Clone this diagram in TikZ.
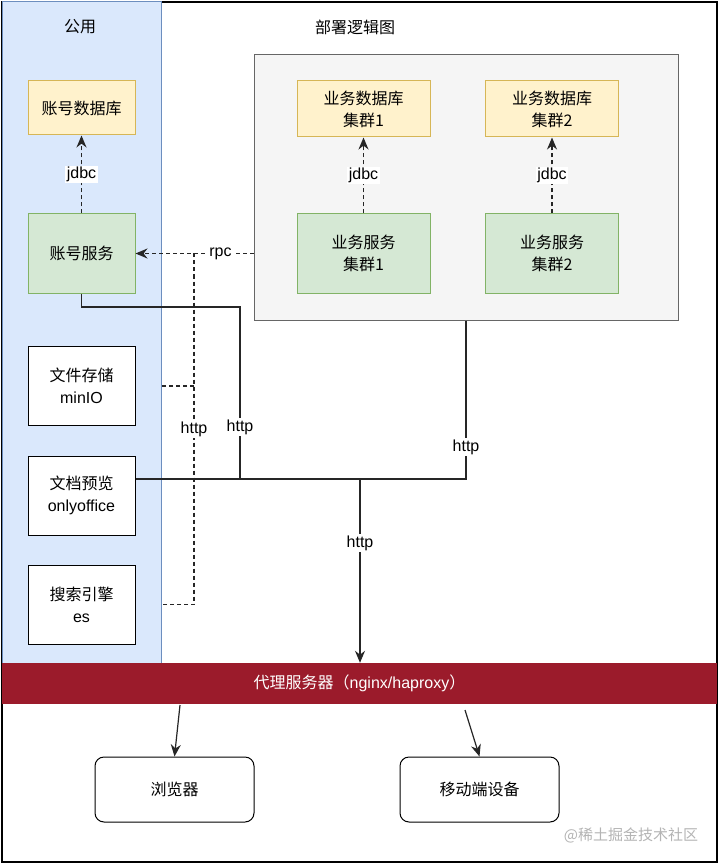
\documentclass[tikz,border=0pt]{standalone}
\usepackage{fontspec}
\setmainfont{Liberation Sans}
\newfontfamily\cjk{Noto Sans CJK SC}
\newcommand{\zh}[1]{{\cjk #1}}
\usetikzlibrary{arrows.meta,positioning}
\definecolor{panelfill}{HTML}{DAE8FC}
\definecolor{panelline}{HTML}{6C8EBF}
\definecolor{dbfill}{HTML}{FFF2CC}
\definecolor{dbline}{HTML}{D6B656}
\definecolor{svcfill}{HTML}{D5E8D4}
\definecolor{svcline}{HTML}{82B366}
\definecolor{grpfill}{HTML}{F5F5F5}
\definecolor{grpline}{HTML}{666666}
\definecolor{proxyred}{HTML}{9B1B2B}
\definecolor{wmgray}{HTML}{B4B4B4}

\begin{document}
\begin{tikzpicture}[x=1pt,y=-1pt,
        box/.style={
            draw,
            line width=1pt,
            minimum width=107pt,
            minimum height=79pt,
            inner sep=2pt,
            align=center,
            font=\fontsize{16}{22}\selectfont
        },
        dbbox/.style={box, fill=dbfill, draw=dbline, minimum height=54pt},
        svcbox/.style={box, fill=svcfill, draw=svcline},
        plainbox/.style={box, fill=white, draw=black},
        clientbox/.style={box, fill=white, draw=black, rounded corners=9pt,
            minimum width=159pt, minimum height=65pt},
        title/.style={font=\fontsize{16}{20}\selectfont},
        lbl/.style={fill=white, inner sep=1.5pt, font=\fontsize{16}{18}\selectfont},
        wire/.style={line width=1.2pt, draw=black!85},
        wirearrow/.style={wire, -{Stealth[length=12pt,width=10pt]}},
        dashline/.style={wire, dash pattern=on 4pt off 3pt},
        dasharrow/.style={dashline, -{Stealth[length=12pt,width=10pt]}}
    ]
    \useasboundingbox (0,0) rectangle (720,866);

    % frame and panels
    \draw[line width=1.5pt, fill=white] (2,2) rectangle (717,862);
    \node[draw=panelline, fill=panelfill, line width=1pt,
          minimum width=159pt, minimum height=661pt] (panel) at (81.5,332.5) {};
    \node[draw=grpline, fill=grpfill, line width=1pt,
          minimum width=424pt, minimum height=265pt] (grp) at (466,187.5) {};
    \node[title] (pubtitle) at (80,27) {\zh{公用}};
    \node[title] (deptitle) at (355,27) {\zh{部署逻辑图}};

    % public services
    \node[dbbox] (acctdb) at (81.5,108) {\zh{账号数据库}};
    \node[svcbox] (acctsvc) at (81.5,253.5) {\zh{账号服务}};
    \node[plainbox] (file) at (81.5,386) {\zh{文件存储}\\minIO};
    \node[plainbox] (doc) at (81.5,495.5) {\zh{文档预览}\\onlyoffice};
    \node[plainbox] (search) at (81.5,604.5) {\zh{搜索引擎}\\es};

    % business clusters
    \node[dbbox, minimum width=133pt, minimum height=56pt] (bizdb1) at (363.5,109) {\zh{业务数据库}\\\zh{集群1}};
    \node[dbbox, minimum width=133pt, minimum height=56pt] (bizdb2) at (552,109) {\zh{业务数据库}\\\zh{集群2}};
    \node[svcbox, minimum width=133pt] (bizsvc1) at (363.5,253.5) {\zh{业务服务}\\\zh{集群1}};
    \node[svcbox, minimum width=133pt] (bizsvc2) at (552,253.5) {\zh{业务服务}\\\zh{集群2}};

    % proxy and clients
    \node[fill=proxyred, text=white, minimum width=715pt, minimum height=41pt,
          font=\fontsize{16}{20}\selectfont] (proxy) at (359.5,683.5)
          {\zh{代理服务器（}nginx/haproxy\zh{）}};
    \node[clientbox] (browser) at (174.5,789.5) {\zh{浏览器}};
    \node[clientbox] (mobile) at (479.5,789.5) {\zh{移动端设备}};
    \node[text=wmgray, font=\fontsize{15}{18}\selectfont] (wm) at (631,835) {\zh{@稀土掘金技术社区}};

    \coordinate (hj) at (194,253.5);
    \coordinate (acctturn) at (240,307);
    \coordinate (bus) at (360,479);
    \coordinate (p1) at (180,705);
    \coordinate (p2) at (465,710);

    % jdbc
    \draw[dasharrow] (acctsvc.north) -- node[lbl]{jdbc} (acctdb.south);
    \draw[dasharrow] (bizsvc1.north) -- node[lbl]{jdbc} (bizdb1.south);
    \draw[dasharrow] (bizsvc2.north) -- node[lbl]{jdbc} (bizdb2.south);

    % rpc and dashed http
    \draw[dasharrow] (grp.west |- acctsvc) -- node[lbl,pos=0.28]{rpc} (acctsvc.east);
    \draw[dashline] (hj) -- node[lbl]{http} (hj |- search) -- (panel.east |- search);
    \draw[dashline] (hj |- file) -- (panel.east |- file);

    % http bus
    \draw[wire] (acctsvc.south) |- (acctturn) -- node[lbl,pos=0.7]{http} (acctturn |- bus);
    \draw[wire] (grp.south) -- node[lbl,pos=0.8]{http} (grp.south |- bus) -- (doc.east |- bus);
    \draw[wirearrow] (bus) -- node[lbl,pos=0.35]{http} (bus |- proxy.north);

    \draw[wirearrow] (p1) -- (browser.north);
    \draw[wirearrow] (p2) -- (mobile.north);
\end{tikzpicture}
\end{document}
